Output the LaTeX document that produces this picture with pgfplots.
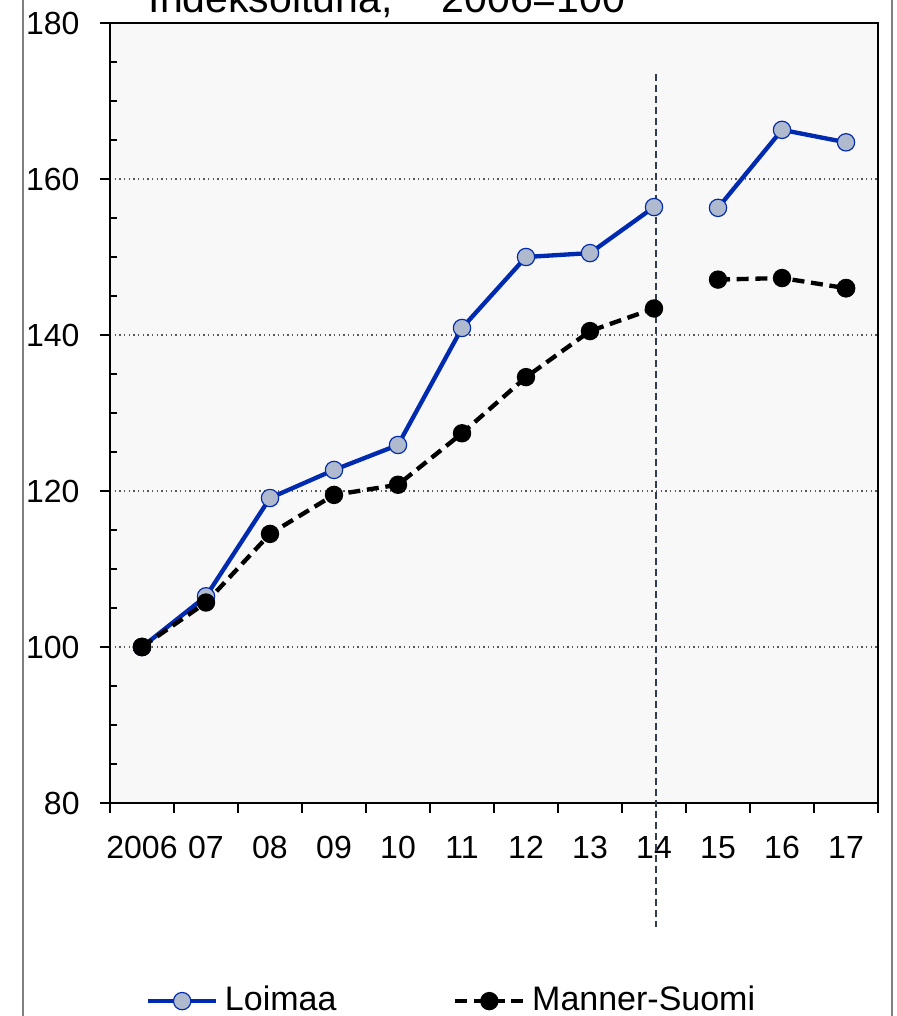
\documentclass[border=0pt]{standalone}
\usepackage{fontspec}
\setmainfont{Liberation Sans}
\usepackage{pgfplots}
\pgfplotsset{compat=1.18}
\definecolor{loiblue}{RGB}{0,42,175}
\definecolor{loifill}{RGB}{176,186,206}
\definecolor{plotbg}{RGB}{248,248,248}
\definecolor{vline}{RGB}{50,60,80}
\definecolor{framegray}{RGB}{128,128,128}

\begin{document}
\begin{tikzpicture}
\clip (0,0) rectangle (269.1pt,304.8pt);
\draw[framegray, line width=0.45pt] (6.9pt,-5pt) rectangle (267.6pt,320pt);
\node[anchor=base west, font=\fontsize{12.3}{14}\selectfont, inner sep=0pt]
  at (44.4pt,300.9pt) {Indeksoituna,\hspace{1.2em}2006=100};
\begin{axis}[
  at={(33pt,63.9pt)}, anchor=south west,
  scale only axis,
  width=230.4pt, height=234pt,
  xmin=-0.5, xmax=11.5, ymin=80, ymax=180,
  clip=false,
  axis background/.style={fill=plotbg},
  axis line style={line width=0.6pt},
  tick pos=left,
  tick align=outside,
  major tick length=3pt,
  minor tick length=2.1pt,
  tick style={black, line width=0.5pt},
  minor y tick style={xshift=2.1pt},
  xtick={-0.5,0.5,...,11.5},
  x tick label as interval,
  xticklabels={2006,07,08,09,10,11,12,13,14,15,16,17},
  ytick={80,100,...,180},
  minor y tick num=3,
  ymajorgrids,
  grid style={densely dotted, line width=0.35pt, gray!70!black},
  ticklabel style={font=\fontsize{9.6}{11}\selectfont},
  /pgf/number format/assume math mode=true,
  xticklabel style={yshift=-3.0pt, text height=7pt, text depth=0pt},
  yticklabel style={xshift=-2.6pt},
  unbounded coords=jump,
  legend columns=2,
  legend style={draw=none, fill=none, inner sep=0pt,
    at={(axis description cs:0.046,-0.254)}, anchor=west,
    font=\fontsize{10.2}{12}\selectfont,
    /tikz/every even column/.append style={column sep=33pt}},
  legend image code/.code={
    \draw[mark repeat=2, mark phase=2, #1]
      plot coordinates {(0pt,0pt) (10.2pt,0pt) (20.4pt,0pt)};},
]
\addplot[loiblue, line width=1.3pt, mark=*, mark size=2.6pt,
  mark options={solid, fill=loifill, draw=loiblue, line width=0.35pt}]
  coordinates {
  (0,100) (1,106.5) (2,119.1) (3,122.7) (4,125.9) (5,140.9)
  (6,150.0) (7,150.5) (8,156.4) (8.5,nan) (9,156.3) (10,166.3) (11,164.7)
};
\addlegendentry{Loimaa}

\addplot[black, line width=1.3pt, dash pattern=on 3.6pt off 2pt,
  mark=*, mark size=2.1pt, mark options={solid, fill=black}]
  coordinates {
  (0,100) (1,105.7) (2,114.5) (3,119.5) (4,120.8) (5,127.4)
  (6,134.6) (7,140.5) (8,143.4) (8.5,nan) (9,147.1) (10,147.3) (11,146.0)
};
\addlegendentry{Manner-Suomi}

\addplot[only marks, mark=*, mark size=2.6pt, black, forget plot]
  coordinates {(0,100) (11,146.0)};

\draw[vline, line width=0.7pt, dash pattern=on 2.2pt off 1.1pt]
  (axis cs:8.03,173.5) -- (axis cs:8.03,64.1);
\end{axis}
\end{tikzpicture}
\end{document}
